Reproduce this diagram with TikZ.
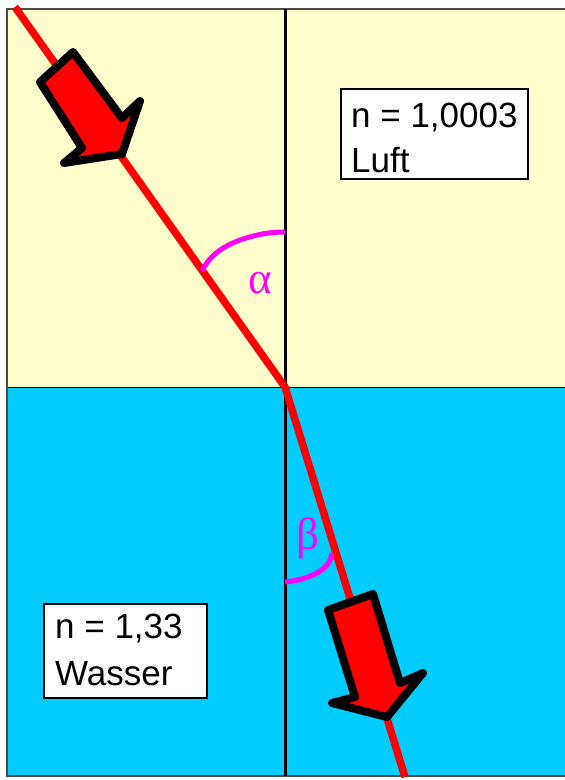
\documentclass[tikz,border=0pt]{standalone}
\usepackage{fontspec}
\setmainfont{Liberation Sans}
\newfontfamily\greekfont{Liberation Serif}
\definecolor{airyellow}{HTML}{FFFFCC}
\definecolor{waterblue}{HTML}{00CCFF}
\definecolor{rayred}{HTML}{FF0000}
\definecolor{anglemag}{HTML}{FF00FF}
\definecolor{framegray}{HTML}{4A4A4A}
\begin{document}
\begin{tikzpicture}[x=1pt,y=-1pt,
  ray/.style={draw=rayred, line width=7.5pt},
  normalline/.style={draw=black, line width=3pt},
  bigarrow/.style={draw=black, fill=rayred, line width=8pt, line join=round},
  anglearc/.style={draw=anglemag, line width=5pt},
  anglelbl/.style={text=anglemag, inner sep=0pt, font=\greekfont\fontsize{45}{45}\selectfont},
  infobox/.style={draw=black, fill=white, line width=2pt, inner sep=0pt, anchor=north west},
  infotxt/.style={inner sep=0pt, anchor=base west, font=\fontsize{35}{40}\selectfont}
]
\useasboundingbox (0,0) rectangle (565,780);
\fill[white] (0,0) rectangle (565,780);
% media
\fill[airyellow] (7,9) rectangle (566,387);
\fill[waterblue] (7,387) rectangle (566,776);
\draw[black, line width=1pt] (7,387) -- (566,387);
\draw[framegray, line width=1.5pt] (566,9) -- (7,9) -- (7,776) -- (566,776);
% normal
\coordinate (ntop) at (285,9);
\coordinate (nbot) at (285,776);
\draw[normalline] (ntop) -- (nbot);
% ray
\coordinate (src) at (15,7);
\coordinate (hit) at (285,387);
\coordinate (dst) at (405,777);
\draw[ray, line join=round] (src) -- (hit) -- (dst);
% angle arcs
\draw[anglearc] (202,271) .. controls (210,255) and (222,247) .. (240,240)
                .. controls (258,234) and (270,232) .. (285,232);
\draw[anglearc] (285,582) .. controls (305,580) and (330,572) .. (332,553);
\node[anglelbl] (alpha) at (260,283) {α};
\node[anglelbl] (beta) at (308,538) {β};
% arrows
\draw[bigarrow] (40,82) -- (73,52) -- (122,118) -- (140,101) -- (122,154)
  -- (64,163) -- (82,148) -- cycle;
\draw[bigarrow] (328,610) -- (373,594) -- (400,683) -- (423,673) -- (387,717)
  -- (332,703) -- (355,697) -- cycle;
% info boxes
\node[infobox, minimum width=187pt, minimum height=90pt] (airbox) at (340,88) {};
\node[infotxt] (airn) at (351,127) {n = 1,0003};
\node[infotxt] (airname) at (351,172) {Luft};
\node[infobox, minimum width=163pt, minimum height=94pt] (waterbox) at (43,603) {};
\node[infotxt] (watern) at (55,638) {n = 1,33};
\node[infotxt] (watername) at (55,685) {Wasser};
\end{tikzpicture}
\end{document}
